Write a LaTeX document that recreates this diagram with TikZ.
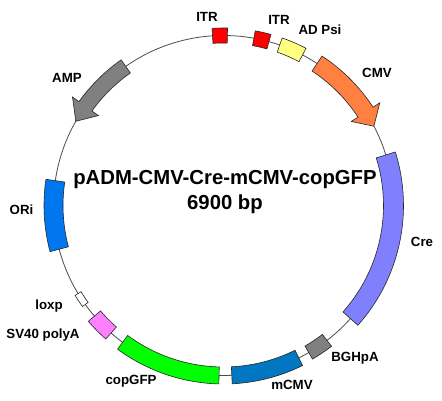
\documentclass[tikz,border=0pt]{standalone}
\usepackage{fontspec}
\setmainfont{Liberation Sans}
\definecolor{itrred}{HTML}{FF0000}
\definecolor{adpsi}{HTML}{FFFF80}
\definecolor{cmvor}{HTML}{FF8040}
\definecolor{crebl}{HTML}{8080FF}
\definecolor{greyf}{HTML}{808080}
\definecolor{mcmvb}{HTML}{0077C0}
\definecolor{gfpgr}{HTML}{00FF00}
\definecolor{svpink}{HTML}{FF80FF}
\definecolor{oriblue}{HTML}{0077EE}
\tikzset{
  feat/.style={draw=black!85, line width=0.6pt},
  backbone/.style={draw=black!70, line width=0.8pt},
  lbl/.style={font=\bfseries\fontsize{13.3}{15}\selectfont, anchor=base, inner sep=0pt},
  ttl/.style={font=\bfseries\fontsize{20.3}{23}\selectfont, anchor=base, inner sep=0pt}
}
% annular block: start angle, end angle, mid radius, half width, colour
\newcommand\plasmidblock[5]{%
  \filldraw[feat, fill=#5] (#1:{#3+#4}) arc[start angle=#1, end angle=#2, radius={#3+#4}]
    -- (#2:{#3-#4}) arc[start angle=#2, end angle=#1, radius={#3-#4}] -- cycle;}
% arrow: tail angle, head base angle, tip angle, radius, body half width, head half width, colour
\newcommand\plasmidarrow[7]{%
  \filldraw[feat, fill=#7] (#1:{#4+#5}) arc[start angle=#1, end angle=#2, radius={#4+#5}]
    -- (#2:{#4+#6}) -- (#3:#4) -- (#2:{#4-#6}) -- (#2:{#4-#5})
    arc[start angle=#2, end angle=#1, radius={#4-#5}] -- cycle;}
\begin{document}
\begin{tikzpicture}[x=1pt,y=1pt]
\useasboundingbox (0,0) rectangle (442,401);
\fill[white] (0,0) rectangle (442,401);
\begin{scope}[shift={(223.5,195.5)}]
  \draw[backbone] (0,0) circle[radius=170];
  % features
  \plasmidblock{88.7}{93.7}{170}{7.5}{itrred}
  \plasmidblock{74.5}{79.7}{170}{7.5}{itrred}
  \plasmidblock{62.3}{70.7}{170}{7.5}{adpsi}
  \plasmidarrow{56.6}{33.3}{27.8}{170}{9}{17}{cmvor}
  \plasmidblock{17.3}{-41.7}{170}{10}{crebl}
  \plasmidblock{-52.5}{-59.9}{170}{7.5}{greyf}
  \plasmidblock{-63.7}{-87.2}{170}{8.5}{mcmvb}
  \plasmidblock{-91.5}{-126.4}{170}{8.5}{gfpgr}
  \plasmidblock{-131.4}{-139.4}{170}{8}{svpink}
  \plasmidblock{-144.4}{-148.8}{170}{3.5}{white}
  \plasmidblock{171.6}{194.9}{170}{9.5}{oriblue}
  \plasmidarrow{125.1}{144.3}{150.3}{170}{8}{16}{greyf}
\end{scope}
% labels
\node[lbl] (litr1) at (207,379) {ITR};
\node[lbl] (litr2) at (279,376) {ITR};
\node[lbl] (ladpsi) at (320,366.5) {AD Psi};
\node[lbl] (lcmv) at (377,323.5) {CMV};
\node[lbl] (lcre) at (422,154) {Cre};
\node[lbl] (lbgh) at (355,39) {BGHpA};
\node[lbl] (lmcmv) at (292,11) {mCMV};
\node[lbl] (lgfp) at (131,16.5) {copGFP};
\node[lbl] (lsv40) at (43,62.7) {SV40 polyA};
\node[lbl] (lloxp) at (49,91.7) {loxp};
\node[lbl] (lori) at (21.5,186) {ORi};
\node[lbl] (lamp) at (67,318) {AMP};
\node[ttl] (title) at (225,216) {pADM-CMV-Cre-mCMV-copGFP};
\node[ttl] (size) at (225,191) {6900 bp};
\end{tikzpicture}
\end{document}
